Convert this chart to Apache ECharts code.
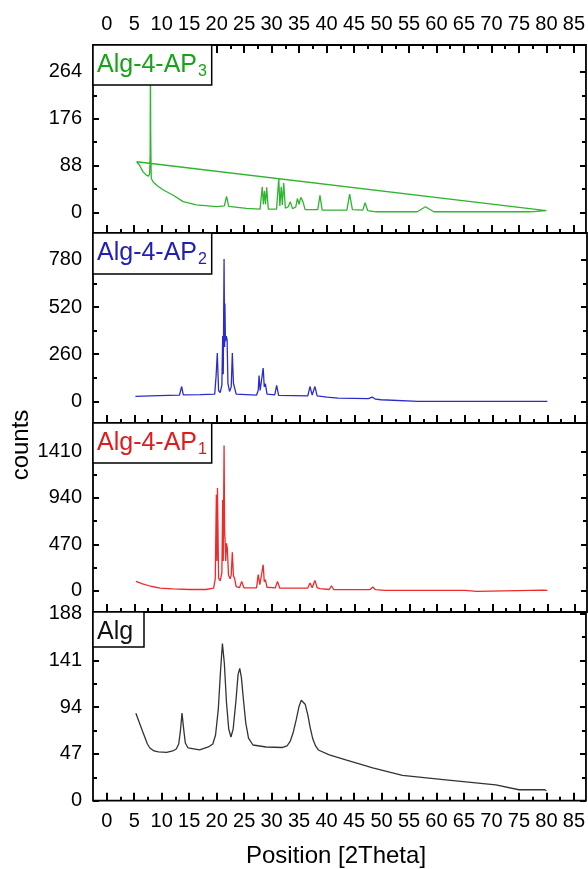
<!doctype html>
<html lang="en">
<head>
    <meta charset="UTF-8">
    <title>XRD Alg / Alg-4-AP</title>
    <script type="text/javascript" src="https://cdn.jsdelivr.net/npm/echarts@6.0.0/dist/echarts.min.js"></script>
    <style>
        html, body { margin: 0; padding: 0; background: #fff; }
    </style>
</head>
<body>
    <div id="main" style="width: 588px;height:869px;"></div>
</body>
<script type="text/javascript">
    // tick values of the shared 2Theta axis
    var xLabels = [0, 5, 10, 15, 20, 25, 30, 35, 40, 45, 50, 55, 60, 65, 70, 75, 80, 85];
    var xMinor = [2.5, 7.5, 12.5, 17.5, 22.5, 27.5, 32.5, 37.5, 42.5, 47.5, 52.5, 57.5, 62.5, 67.5, 72.5, 77.5, 82.5];

    // y ticks per panel (top -> bottom)
    var ap3Ticks = [0, 88, 176, 264];
    var ap3Minor = [44, 132, 220];
    var ap2Ticks = [0, 260, 520, 780];
    var ap2Minor = [130, 390, 650];
    var ap1Ticks = [0, 470, 940, 1410];
    var ap1Minor = [235, 705, 1175];
    var algTicks = [0, 47, 94, 141, 188];
    var algMinor = [23.5, 70.5, 117.5, 164.5];

    // [2Theta, counts]
    var ap3 = [[5.44, 95], [6.0, 88], [6.6, 76], [7.2, 70], [7.6, 68], [7.8, 72], [7.9, 110], [7.95, 300], [8.0, 150],
        [8.05, 100], [8.1, 64], [8.45, 57], [9.2, 50], [10.3, 42], [12.1, 32], [13.9, 20], [16.3, 14], [20, 10.5],
        [21.4, 12], [21.8, 30], [22.2, 11], [25.4, 7.5], [27.9, 6], [28.3, 48], [28.5, 15], [28.7, 40], [28.9, 15],
        [29.1, 47], [29.4, 6], [30.9, 6], [31.3, 64], [31.5, 12], [31.75, 48], [31.95, 14], [32.2, 55], [32.5, 8],
        [33.0, 10], [33.4, 20], [33.8, 7], [34.4, 10], [34.7, 26], [35.0, 15], [35.3, 28], [35.7, 20], [36.1, 5],
        [38.4, 5], [38.8, 32], [39.2, 4], [43.7, 4], [44.2, 34], [44.7, 5], [46.6, 4], [47.0, 18], [47.5, 3],
        [49, 1], [56.5, 1], [58, 10.5], [59.5, 1], [77, 1], [80, 3], [5.44, 95]];

    var ap2 = [[5.2, 28], [9.4, 32], [13.2, 35], [13.6, 82], [13.9, 36], [17, 37], [19.6, 40], [19.85, 140], [20.07, 266],
        [20.3, 60], [20.6, 48], [20.9, 90], [21.05, 360], [21.15, 150], [21.3, 785], [21.4, 300], [21.45, 540],
        [21.55, 330], [21.7, 360], [21.85, 340], [22.0, 100], [22.3, 55], [22.6, 80], [22.8, 266], [23.0, 100],
        [23.2, 100], [23.5, 40], [27.2, 35], [27.5, 60], [27.65, 142], [27.85, 60], [28.1, 50], [28.4, 184],
        [28.6, 80], [28.8, 97], [29.1, 40], [30.5, 36], [30.85, 88], [31.2, 33], [36.5, 30], [36.9, 82], [37.3, 35],
        [37.8, 82], [38.2, 30], [40, 24], [42, 18], [47.5, 15], [48.2, 24], [48.8, 12], [49.8, 9], [56.5, 0], [80, 0]];

    var ap1 = [[5.3, 94], [6.5, 70], [8, 45], [9.7, 27], [12, 18], [15, 12], [18, 12], [19.4, 25], [19.7, 120],
        [19.9, 970], [20.0, 300], [20.1, 1040], [20.3, 130], [20.6, 100], [20.9, 180], [21.05, 920], [21.15, 300],
        [21.3, 1470], [21.4, 600], [21.5, 485], [21.6, 300], [21.75, 480], [21.9, 422], [22.1, 160], [22.4, 120],
        [22.6, 160], [22.8, 390], [23.0, 150], [23.2, 128], [23.5, 40], [24.1, 30], [24.5, 94], [24.9, 30],
        [27.2, 28], [27.5, 162], [27.8, 60], [28.1, 50], [28.4, 263], [28.6, 90], [28.8, 111], [29.1, 35],
        [30.6, 28], [31.0, 94], [31.4, 27], [36.5, 27], [36.9, 78], [37.3, 30], [37.8, 104], [38.2, 30], [38.7, 20],
        [40.4, 12], [40.8, 50], [41.2, 12], [47.8, 10], [48.3, 37], [48.8, 10], [50.5, 4], [65, 4], [65.3, -6],
        [67.2, -6], [67.4, 6], [79.3, 6], [79.6, 14], [80, 4]];

    var alg = [[5.3, 88], [6.5, 70], [7.4, 57], [7.85, 53], [8.6, 50], [9.4, 49], [10.9, 48.5], [12.0, 50],
        [12.65, 52], [13.1, 57], [13.4, 70], [13.7, 88], [14.0, 72], [14.3, 58], [14.8, 53], [16.9, 51], [18.5, 54],
        [19.3, 57], [19.8, 66], [20.3, 92], [20.7, 130], [21.05, 158], [21.4, 138], [21.8, 98], [22.2, 72],
        [22.6, 64], [23.0, 72], [23.5, 100], [23.9, 127], [24.2, 133], [24.5, 124], [24.9, 100], [25.3, 78],
        [25.8, 63], [26.6, 56], [29, 54], [32, 53.5], [32.8, 55], [33.4, 60], [33.9, 68], [34.5, 82], [35.0, 95],
        [35.4, 101], [35.7, 101.5], [36.1, 97], [36.6, 86], [37.0, 74], [37.5, 62], [38.0, 55], [38.5, 51],
        [40.5, 46], [43.5, 41], [48.4, 33], [53.8, 25.5], [61.7, 21], [70.8, 16], [75, 11], [79.7, 11], [80, 10]];

    var FONT = 'Liberation Sans, Arial, sans-serif';

    // panels top -> bottom
    var panels = [
        {name: 'Alg-4-AP', sub: '3', color: '#2fb52f', text: '#17a317', data: ap3, ticks: ap3Ticks, minor: ap3Minor,
            yMin: -38.9, yMax: 314.5, top: 45, height: 188, boxW: 118.7, boxH: 40},
        {name: 'Alg-4-AP', sub: '2', color: '#2c2cc8', text: '#2020b8', data: ap2, ticks: ap2Ticks, minor: ap2Minor,
            yMin: -119, yMax: 928, top: 233, height: 190, boxW: 118.7, boxH: 41},
        {name: 'Alg-4-AP', sub: '1', color: '#ee2a2a', text: '#e41a1a', data: ap1, ticks: ap1Ticks, minor: ap1Minor,
            yMin: -215.6, yMax: 1697, top: 423, height: 189, boxW: 118.7, boxH: 40},
        {name: 'Alg', sub: '', color: '#333333', text: '#111111', data: alg, ticks: algTicks, minor: algMinor,
            yMin: 0, yMax: 189.7, top: 612, height: 188.7, boxW: 51, boxH: 35}
    ];

    var grids = [], xAxes = [], yAxes = [], series = [], graphics = [];

    function plain(v) {
        return String(v);
    }

    function xAxis(gi, pos, values, len, labels) {
        xAxes.push({
            type: 'value', gridIndex: gi, position: pos, min: -2.5, max: 87.2,
            axisLine: {show: false, onZero: false},
            splitLine: {show: false},
            axisTick: {show: true, inside: true, length: len, customValues: values,
                lineStyle: {color: '#000', width: 2}},
            axisLabel: {show: labels, customValues: values, margin: 11, fontSize: 20,
                color: '#000', fontFamily: FONT, formatter: plain}
        });
        return xAxes.length - 1;
    }

    function yAxis(gi, p, pos, values, len, labels) {
        yAxes.push({
            type: 'value', gridIndex: gi, position: pos, min: p.yMin, max: p.yMax,
            axisLine: {show: false, onZero: false},
            splitLine: {show: false},
            axisTick: {show: true, inside: true, length: len, customValues: values,
                lineStyle: {color: '#000', width: 2}},
            axisLabel: {show: labels, customValues: values, margin: 11, fontSize: 20,
                color: '#000', fontFamily: FONT, formatter: plain}
        });
        return yAxes.length - 1;
    }

    panels.forEach(function (p, i) {
        grids.push({
            left: 93, width: 494, top: p.top, height: p.height,
            show: true, borderColor: '#000', borderWidth: 1.8, backgroundColor: 'transparent'
        });
        var xi = xAxis(i, 'bottom', xLabels, 8, i === panels.length - 1);
        xAxis(i, 'bottom', xMinor, 4, false);
        if (i === 0) {
            xAxis(i, 'top', xLabels, 8, true);
            xAxis(i, 'top', xMinor, 4, false);
        }
        var yi = yAxis(i, p, 'left', p.ticks, 6, true);
        yAxis(i, p, 'left', p.minor, 4, false);
        yAxis(i, p, 'right', p.ticks, 6, false);
        yAxis(i, p, 'right', p.minor, 4, false);

        series.push({
            type: 'line', name: p.name + p.sub, xAxisIndex: xi, yAxisIndex: yi,
            data: p.data, showSymbol: false, symbol: 'none', clip: true,
            lineStyle: {color: p.color, width: 1.3}
        });

        // label box in the upper left corner
        graphics.push({
            type: 'rect', z: 100,
            shape: {x: 93, y: p.top, width: p.boxW, height: p.boxH},
            style: {fill: '#fff', stroke: '#000', lineWidth: 1.5}
        });
        graphics.push({
            type: 'text', z: 101, x: 97, y: p.top + 20,
            style: {
                text: '{a|' + p.name + '}' + (p.sub ? '{b|' + p.sub + '}' : ''),
                verticalAlign: 'middle', align: 'left',
                rich: {
                    a: {fontSize: 25, fontFamily: FONT, fill: p.text, color: p.text},
                    b: {fontSize: 16, fontFamily: FONT, fill: p.text, color: p.text, padding: [14, 0, 0, 1]}
                }
            }
        });
    });

    graphics.push({
        type: 'text', x: 21, y: 445, rotation: Math.PI / 2,
        style: {text: 'counts', font: '24px ' + FONT, fill: '#000', align: 'center', verticalAlign: 'middle'}
    });
    graphics.push({
        type: 'text', x: 336, y: 856,
        style: {text: 'Position [2Theta]', font: '24px ' + FONT, fill: '#000', align: 'center', verticalAlign: 'middle'}
    });

    var myChart = echarts.init(document.getElementById('main'));
    myChart.setOption({
        animation: false,
        backgroundColor: '#fff',
        grid: grids,
        xAxis: xAxes,
        yAxis: yAxes,
        series: series,
        graphic: graphics
    });
</script>
</html>
